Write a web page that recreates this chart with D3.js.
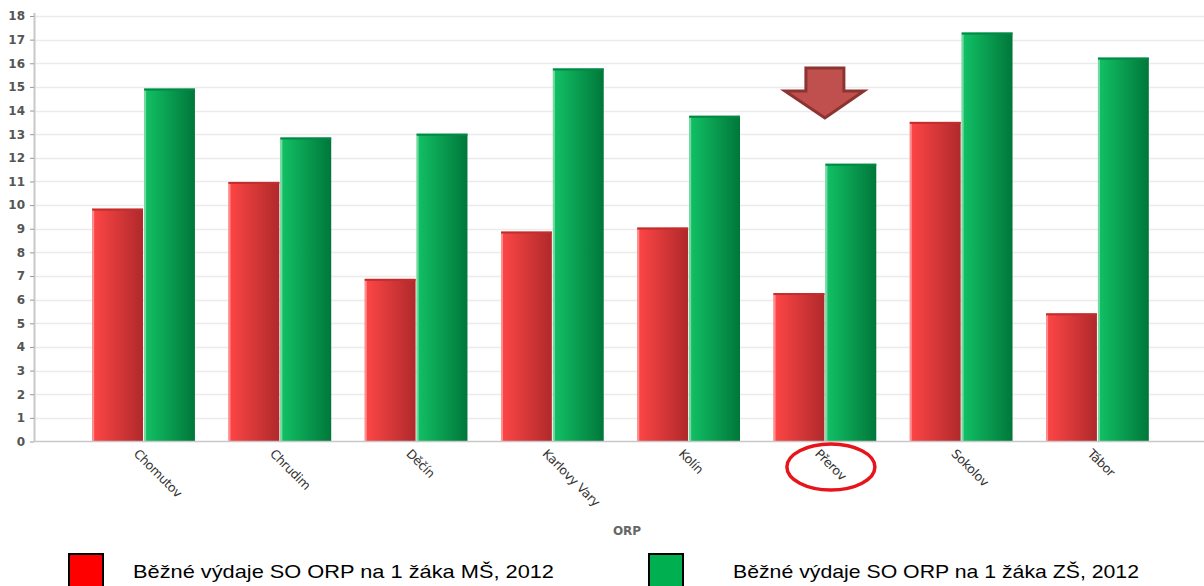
<!DOCTYPE html>
<html>
<head>
<meta charset="utf-8">
<script src="https://cdn.jsdelivr.net/npm/d3@7"></script>
<style>
  body { margin: 0; background: #fff; }
  svg { display: block; }
</style>
</head>
<body>
<div id="chart"></div>
<script>
'use strict';
var categories = ['Chomutov', 'Chrudim', 'Děčín', 'Karlovy Vary', 'Kolín', 'Přerov', 'Sokolov', 'Tábor'];
var seriesNames = ['Běžné výdaje SO ORP na 1 žáka MŠ, 2012', 'Běžné výdaje SO ORP na 1 žáka ZŠ, 2012'];
var msValues = [9.85, 10.98, 6.88, 8.88, 9.05, 6.28, 13.52, 5.42];
var zsValues = [14.93, 12.86, 13.02, 15.78, 13.78, 11.75, 17.3, 16.24];
var yTicks = d3.range(0, 19);
var highlighted = 'Přerov';

var width = 1204, height = 586;
var margin = {top: 16, right: 0, bottom: 145, left: 34};
var plotW = width - margin.left - margin.right;
var plotH = height - margin.top - margin.bottom;

var svg = d3.select('#chart').append('svg')
  .attr('width', width)
  .attr('height', height);

// gradients for the bars
var defs = svg.append('defs');
function grad(id, light, dark) {
  var g = defs.append('linearGradient').attr('id', id)
    .attr('x1', '0%').attr('x2', '100%').attr('y1', '0%').attr('y2', '0%');
  g.append('stop').attr('offset', '0%').attr('stop-color', light);
  g.append('stop').attr('offset', '100%').attr('stop-color', dark);
}
grad('gRed', '#ff4646', '#b0292b');
grad('gGreen', '#12c266', '#00773a');

var g = svg.append('g')
  .attr('transform', 'translate(' + margin.left + ',' + margin.top + ')');

var x = d3.scaleBand()
  .domain(categories)
  .range([3, plotW])
  .paddingInner(0.246)
  .paddingOuter(0.405);
var x1 = d3.scaleBand()
  .domain([0, 1])
  .range([0, x.bandwidth()])
  .paddingInner(0.02);
var y = d3.scaleLinear()
  .domain([0, 18])
  .range([plotH + 0.5, 0]);

// grid
g.append('g')
  .selectAll('line')
  .data(yTicks.slice(1))
  .enter()
  .append('line')
  .attr('x1', 0)
  .attr('x2', plotW)
  .attr('y1', function(d) { return Math.round(y(d)) + 0.5; })
  .attr('y2', function(d) { return Math.round(y(d)) + 0.5; })
  .style('stroke', '#ebebeb')
  .style('stroke-width', 1.5);

// bars
var data = categories.map(function(c, i) {
  return {cat: c, vals: [msValues[i], zsValues[i]]};
});
var group = g.selectAll('.grp')
  .data(data)
  .enter()
  .append('g')
  .attr('class', 'grp')
  .attr('transform', function(d) { return 'translate(' + x(d.cat) + ',0)'; });

group.selectAll('rect')
  .data(function(d) { return d.vals; })
  .enter()
  .append('rect')
  .attr('x', function(d, i) { return x1(i); })
  .attr('width', x1.bandwidth())
  .attr('y', function(d) { return y(d); })
  .attr('height', function(d) { return y(0) - y(d); })
  .style('fill', function(d, i) { return i === 0 ? 'url(#gRed)' : 'url(#gGreen)'; });

// light left edge and darker top edge
group.selectAll('.edge')
  .data(function(d) { return d.vals; })
  .enter()
  .append('rect')
  .attr('class', 'edge')
  .attr('x', function(d, i) { return x1(i); })
  .attr('width', 2)
  .attr('y', function(d) { return y(d); })
  .attr('height', function(d) { return y(0) - y(d); })
  .style('fill', function(d, i) { return i === 0 ? '#ffa0a0' : '#8fe0b0'; })
  .style('opacity', 0.8);
group.selectAll('.topedge')
  .data(function(d) { return d.vals; })
  .enter()
  .append('rect')
  .attr('class', 'topedge')
  .attr('x', function(d, i) { return x1(i); })
  .attr('width', x1.bandwidth())
  .attr('y', function(d) { return y(d); })
  .attr('height', 2)
  .style('fill', function(d, i) { return i === 0 ? '#c22e2e' : '#008a45'; });

// y axis
var yAxis = g.append('g')
  .call(d3.axisLeft(y).tickValues(yTicks).tickSize(4).tickPadding(5).tickFormat(d3.format('d')));
yAxis.select('.domain').attr('d', 'M0.5,-3V' + (plotH + 0.5)).style('stroke', '#c8c8c8').style('stroke-width', 2);
yAxis.selectAll('.tick line').style('stroke', '#999');
yAxis.selectAll('text')
  .style('font-family', 'DejaVu Sans, Verdana, sans-serif')
  .style('font-weight', 'bold')
  .style('font-size', '12px')
  .style('fill', '#555');

// x axis
var xAxis = g.append('g')
  .attr('transform', 'translate(0,' + plotH + ')')
  .call(d3.axisBottom(x).tickSize(0).tickPadding(0));
xAxis.select('.domain').attr('d', 'M0,0.5H' + plotW).style('stroke', '#c8c8c8').style('stroke-width', 1.5);
xAxis.selectAll('text')
  .attr('x', 2)
  .attr('y', 17)
  .attr('dy', 0)
  .attr('transform', 'rotate(45)')
  .style('text-anchor', 'start')
  .style('font-family', 'DejaVu Sans, Verdana, sans-serif')
  .style('font-size', '12.5px')
  .style('letter-spacing', '-0.3px')
  .style('fill', '#333');

g.append('text')
  .attr('x', plotW / 2 + 8)
  .attr('y', plotH + 94)
  .attr('text-anchor', 'middle')
  .text('ORP')
  .style('font-family', 'DejaVu Sans, Verdana, sans-serif')
  .style('font-weight', 'bold')
  .style('font-size', '12px')
  .style('fill', '#666');

// highlight annotations
var hx = x(highlighted) + x.bandwidth() / 2;
g.append('ellipse')
  .attr('cx', hx + 6)
  .attr('cy', plotH + 26)
  .attr('rx', 44)
  .attr('ry', 23)
  .style('fill', 'none')
  .style('stroke', '#e8141b')
  .style('stroke-width', 3.5);

var ax = hx, atop = 52, abot = 102;
var arrow = 'M' + (ax - 19) + ',' + atop + 'H' + (ax + 19) + 'V' + (atop + 23) +
  'H' + (ax + 39) + 'L' + ax + ',' + abot + 'L' + (ax - 40) + ',' + (atop + 23) +
  'H' + (ax - 19) + 'Z';
g.append('path')
  .attr('d', arrow)
  .style('fill', '#c0504d')
  .style('stroke', '#8c3431')
  .style('stroke-width', 3)
  .style('stroke-linejoin', 'miter');

// legend
var legend = svg.selectAll('.legend')
  .data(seriesNames)
  .enter()
  .append('g')
  .attr('class', 'legend')
  .attr('transform', function(d, i) { return 'translate(' + (i === 0 ? 69 : 649) + ',554)'; });
legend.append('rect')
  .attr('width', 34)
  .attr('height', 36)
  .style('fill', function(d, i) { return i === 0 ? '#ff0000' : '#00b050'; })
  .style('stroke', '#000')
  .style('stroke-width', 2);
legend.append('text')
  .attr('x', function(d, i) { return i === 0 ? 64 : 84; })
  .attr('y', 24)
  .attr('textLength', function(d, i) { return i === 0 ? 421 : 406; })
  .attr('lengthAdjust', 'spacingAndGlyphs')
  .text(function(d) { return d; })
  .style('font-family', 'Liberation Sans, Arial, sans-serif')
  .style('font-size', '19px')
  .style('fill', '#000');
</script>
</body>
</html>
